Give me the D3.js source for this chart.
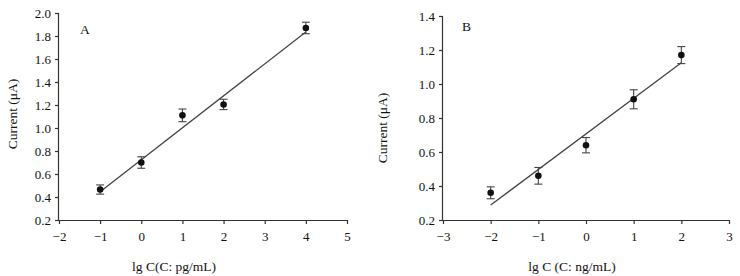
<!DOCTYPE html>
<head>
    <meta charset="utf-8">
    <script src="https://d3js.org/d3.v7.min.js"></script>
    <style>
        body { margin: 0; background: #fff; }
        text { font-family: "Liberation Serif", "Times New Roman", serif; fill: #111; }
    </style>
</head>
<body>
    <svg id="chart" width="740" height="276"></svg>
    <script>
        // panel A data
        var xA = [-1, 0, 1, 2, 4];
        var yA = [0.465, 0.70, 1.11, 1.205, 1.87];
        var errA = [0.04, 0.05, 0.055, 0.045, 0.05];
        var fitA = [[-1, 0.446], [4, 1.835]];

        // panel B data
        var xB = [-2, -1, 0, 1, 2];
        var yB = [0.36, 0.46, 0.64, 0.91, 1.17];
        var errB = [0.035, 0.049, 0.045, 0.056, 0.05];
        var fitB = [[-2, 0.288], [2, 1.125]];

        var svg = d3.select("#chart");

        function panel(opt) {
            var x = d3.scaleLinear().domain(opt.xDomain).range([opt.left, opt.right]);
            var y = d3.scaleLinear().domain(opt.yDomain).range([opt.bottom, opt.top]);
            var g = svg.append("g");

            var xAxis = g.append("g")
                .attr("transform", "translate(0," + opt.bottom + ")")
                .call(d3.axisBottom(x).tickValues(opt.xTicks).tickSize(4).tickPadding(8)
                    .tickFormat(d3.format("d")));
            var yAxis = g.append("g")
                .attr("transform", "translate(" + opt.left + ",0)")
                .call(d3.axisLeft(y).tickValues(opt.yTicks).tickSize(4).tickPadding(4)
                    .tickFormat(d3.format(".1f")));
            [xAxis, yAxis].forEach(function (a) {
                a.selectAll("path, line").attr("stroke", "#333").attr("stroke-width", 1.2);
                a.selectAll("text").style("font-size", "13px").style("font-family", "Liberation Serif").attr("fill", "#111");
            });
            xAxis.select(".domain").attr("d", "M" + opt.left + ",0.5H" + opt.right);
            yAxis.select(".domain").attr("d", "M-0.5," + opt.bottom + "V" + opt.top);

            // fit line
            g.append("path")
                .datum(opt.fit)
                .attr("d", d3.line().x(function (d) { return x(d[0]); }).y(function (d) { return y(d[1]); }))
                .attr("stroke", "#444").attr("stroke-width", 1.3).attr("fill", "none");

            var pts = opt.xs.map(function (v, i) { return { x: v, y: opt.ys[i], e: opt.errs[i] }; });

            // error bars
            var eb = g.selectAll(".eb").data(pts).enter().append("g").attr("stroke", "#444").attr("stroke-width", 1.1);
            eb.append("line")
                .attr("x1", function (d) { return x(d.x); }).attr("x2", function (d) { return x(d.x); })
                .attr("y1", function (d) { return y(d.y - d.e); }).attr("y2", function (d) { return y(d.y + d.e); });
            eb.append("line")
                .attr("x1", function (d) { return x(d.x) - 4; }).attr("x2", function (d) { return x(d.x) + 4; })
                .attr("y1", function (d) { return y(d.y + d.e); }).attr("y2", function (d) { return y(d.y + d.e); });
            eb.append("line")
                .attr("x1", function (d) { return x(d.x) - 4; }).attr("x2", function (d) { return x(d.x) + 4; })
                .attr("y1", function (d) { return y(d.y - d.e); }).attr("y2", function (d) { return y(d.y - d.e); });

            // points
            g.selectAll(".pt").data(pts).enter().append("circle")
                .attr("cx", function (d) { return x(d.x); })
                .attr("cy", function (d) { return y(d.y); })
                .attr("r", 3.3).attr("fill", "#111");

            // labels
            g.append("text").attr("x", opt.letter[0]).attr("y", opt.letter[1])
                .style("font-size", "13.5px").text(opt.name);
            g.append("text").attr("x", opt.xLabel[0]).attr("y", opt.xLabel[1])
                .attr("text-anchor", "middle").style("font-size", "13.5px").text(opt.xTitle);
            g.append("text")
                .attr("transform", "translate(" + opt.yLabel[0] + "," + opt.yLabel[1] + ") rotate(-90)")
                .attr("text-anchor", "middle").style("font-size", "13.5px").text("Current (μA)");
        }

        panel({
            name: "A", xs: xA, ys: yA, errs: errA, fit: fitA,
            xDomain: [-2, 5], yDomain: [0.2, 2.0],
            xTicks: [-2, -1, 0, 1, 2, 3, 4, 5], yTicks: [0.2, 0.4, 0.6, 0.8, 1.0, 1.2, 1.4, 1.6, 1.8, 2.0],
            left: 59, right: 347, top: 13, bottom: 220,
            letter: [80, 34], xLabel: [174, 271], yLabel: [17, 114],
            xTitle: "lg C(C: pg/mL)"
        });

        panel({
            name: "B", xs: xB, ys: yB, errs: errB, fit: fitB,
            xDomain: [-3, 3], yDomain: [0.2, 1.4],
            xTicks: [-3, -2, -1, 0, 1, 2, 3], yTicks: [0.2, 0.4, 0.6, 0.8, 1.0, 1.2, 1.4],
            left: 443, right: 729, top: 16, bottom: 220,
            letter: [462, 31], xLabel: [572, 271], yLabel: [387, 128],
            xTitle: "lg C (C: ng/mL)"
        });
    </script>
</body>
